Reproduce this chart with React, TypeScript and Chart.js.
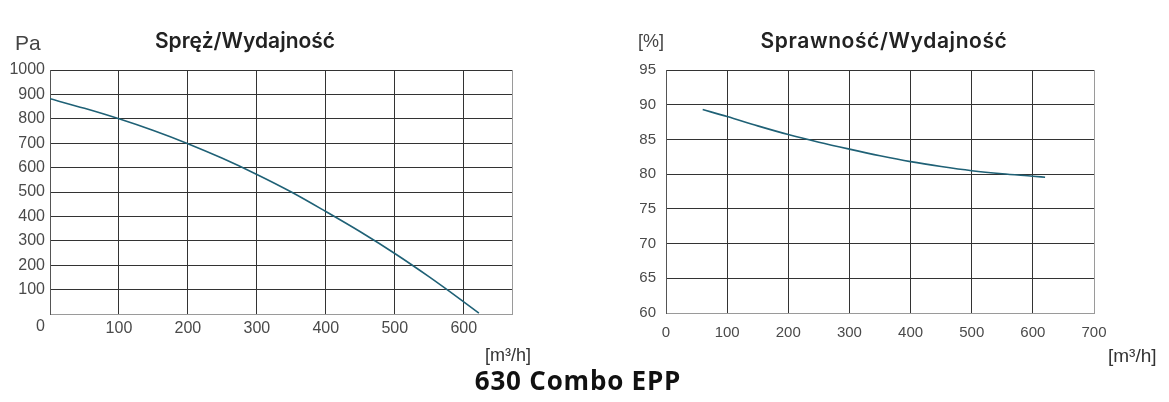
import { useEffect, useRef } from 'react';
import { Chart, registerables } from 'chart.js';

Chart.register(...registerables);

// Spręż/Wydajność (pressure vs airflow)
const pressureFlow = [0, 50, 100, 150, 200, 250, 300, 350, 400, 450, 500, 550, 600, 622];
const pressurePa = [882, 843, 800, 752, 698, 638, 572, 500, 420, 337, 248, 152, 50, 4];
const pressureXTicks = [0, 100, 200, 300, 400, 500, 600, 670];
const pressureYTicks = [0, 100, 200, 300, 400, 500, 600, 700, 800, 900, 1000];

// Sprawność/Wydajność (efficiency vs airflow)
const efficiencyFlow = [60, 100, 150, 200, 250, 300, 350, 400, 450, 500, 550, 600, 620];
const efficiencyPct = [89.3, 88.3, 86.95, 85.7, 84.6, 83.6, 82.65, 81.8, 81.1, 80.5, 80.05, 79.7, 79.55];
const efficiencyXTicks = [0, 100, 200, 300, 400, 500, 600, 700];
const efficiencyYTicks = [60, 65, 70, 75, 80, 85, 90, 95];

const CURVE = '#1f6176';
const GRID = '#333333';
const EDGE = '#9a9a9a';

interface CurveChartProps {
  left: number;
  width: number;
  xs: number[];
  ys: number[];
  xTicks: number[];
  yTicks: number[];
  xLabel: (v: number) => string | string[];
  yLabel: (v: number) => string | string[];
  font: { family: string; size: number; lineHeight?: number };
  yWidth: number;
  padding: { top: number; right: number; bottom: number; left: number };
  xPad: number;
  yPad: number;
}

function CurveChart(props: CurveChartProps) {
  const canvasRef = useRef<HTMLCanvasElement | null>(null);

  useEffect(() => {
    if (!canvasRef.current) {
      return;
    }
    const { xs, ys, xTicks, yTicks } = props;
    const xMin = xTicks[0];
    const xMax = xTicks[xTicks.length - 1];
    const yMin = yTicks[0];
    const yMax = yTicks[yTicks.length - 1];

    const chart = new Chart(canvasRef.current, {
      type: 'line',
      data: {
        datasets: [
          {
            data: xs.map((x, i) => ({ x, y: ys[i] })),
            borderColor: CURVE,
            borderWidth: 1.6,
            pointRadius: 0,
            fill: false,
            tension: 0.4,
            cubicInterpolationMode: 'monotone',
          },
        ],
      },
      options: {
        responsive: false,
        animation: false,
        layout: { padding: props.padding },
        plugins: { legend: { display: false }, tooltip: { enabled: false } },
        scales: {
          x: {
            type: 'linear',
            min: xMin,
            max: xMax,
            afterBuildTicks: (scale: any) => {
              scale.ticks = xTicks.map((value) => ({ value }));
            },
            afterFit: (scale: any) => {
              scale.height = 30;
            },
            ticks: {
              autoSkip: false,
              maxRotation: 0,
              padding: props.xPad,
              color: '#4a4a4a',
              font: props.font,
              callback: (v: any) => props.xLabel(Number(v)),
            },
            grid: {
              drawTicks: false,
              lineWidth: 1,
              color: (ctx: any) => (ctx.tick && ctx.tick.value === xMax ? EDGE : GRID),
            },
            border: { display: true, color: EDGE, width: 1 },
          },
          y: {
            type: 'linear',
            min: yMin,
            max: yMax,
            afterBuildTicks: (scale: any) => {
              scale.ticks = yTicks.map((value) => ({ value }));
            },
            afterFit: (scale: any) => {
              scale.width = props.yWidth;
            },
            ticks: {
              autoSkip: false,
              padding: props.yPad,
              color: '#4a4a4a',
              font: props.font,
              callback: (v: any) => props.yLabel(Number(v)),
            },
            grid: {
              drawTicks: false,
              lineWidth: 1,
              color: (ctx: any) => (ctx.tick && ctx.tick.value === yMin ? EDGE : GRID),
            },
            border: { display: true, color: '#555555', width: 1 },
          },
        },
      },
    });

    return () => {
      chart.destroy();
    };
  }, []);

  return (
    <canvas
      ref={canvasRef}
      width={props.width}
      height={402}
      style={{ position: 'absolute', left: props.left, top: 0, width: props.width, height: 402 }}
    />
  );
}

const text = (style: React.CSSProperties): React.CSSProperties => ({
  position: 'absolute',
  whiteSpace: 'nowrap',
  lineHeight: 1,
  ...style,
});

export default function App() {
  const sans = '"Liberation Sans", Arial, sans-serif';
  const narrow = '"Liberation Sans Narrow", "Arial Narrow", "Liberation Sans", sans-serif';
  const heading = 'Inter, "Noto Sans", sans-serif';

  return (
    <div style={{ position: 'absolute', left: 0, top: 0, width: 1169, height: 402, background: '#fff', overflow: 'hidden' }}>
      <CurveChart
        left={0}
        width={560}
        xs={pressureFlow}
        ys={pressurePa}
        xTicks={pressureXTicks}
        yTicks={pressureYTicks}
        xLabel={(v) => (v > 0 && v % 100 === 0 ? String(v) : '')}
        yLabel={(v) => (v === 0 ? ['', '0'] : String(v))}
        font={{ family: sans, size: 16, lineHeight: 1.55 }}
        yWidth={50}
        padding={{ top: 70, right: 48, bottom: 58, left: 0 }}
        xPad={2}
        yPad={5}
      />
      <CurveChart
        left={600}
        width={569}
        xs={efficiencyFlow}
        ys={efficiencyPct}
        xTicks={efficiencyXTicks}
        yTicks={efficiencyYTicks}
        xLabel={(v) => String(v)}
        yLabel={(v) => String(v)}
        font={{ family: narrow, size: 15, lineHeight: 1.2 }}
        yWidth={66}
        padding={{ top: 70, right: 75, bottom: 59, left: 0 }}
        xPad={11}
        yPad={10}
      />

      <div style={text({ left: 15, top: 32, fontFamily: sans, fontSize: 21, color: '#444' })}>Pa</div>
      <div style={text({ left: 245, top: 30, transform: 'translateX(-50%)', fontFamily: heading, fontWeight: 600, fontSize: 21, color: '#222' })}>
        Spręż/Wydajność
      </div>
      <div style={text({ left: 485, top: 346, fontFamily: sans, fontSize: 18, color: '#333' })}>[m³/h]</div>

      <div style={text({ left: 638, top: 32, fontFamily: narrow, fontSize: 18, color: '#444' })}>[%]</div>
      <div style={text({ left: 884, top: 30, transform: 'translateX(-50%)', fontFamily: heading, fontWeight: 600, fontSize: 21, letterSpacing: 0.6, color: '#222' })}>
        Sprawność/Wydajność
      </div>
      <div style={text({ left: 1108, top: 346, fontFamily: narrow, fontSize: 19, color: '#333' })}>[m³/h]</div>

      <div style={text({ left: 578, top: 367, transform: 'translateX(-50%)', fontFamily: '"Open Sans", sans-serif', fontWeight: 700, fontSize: 26, letterSpacing: 0.8, color: '#111' })}>
        630 Combo EPP
      </div>
    </div>
  );
}
